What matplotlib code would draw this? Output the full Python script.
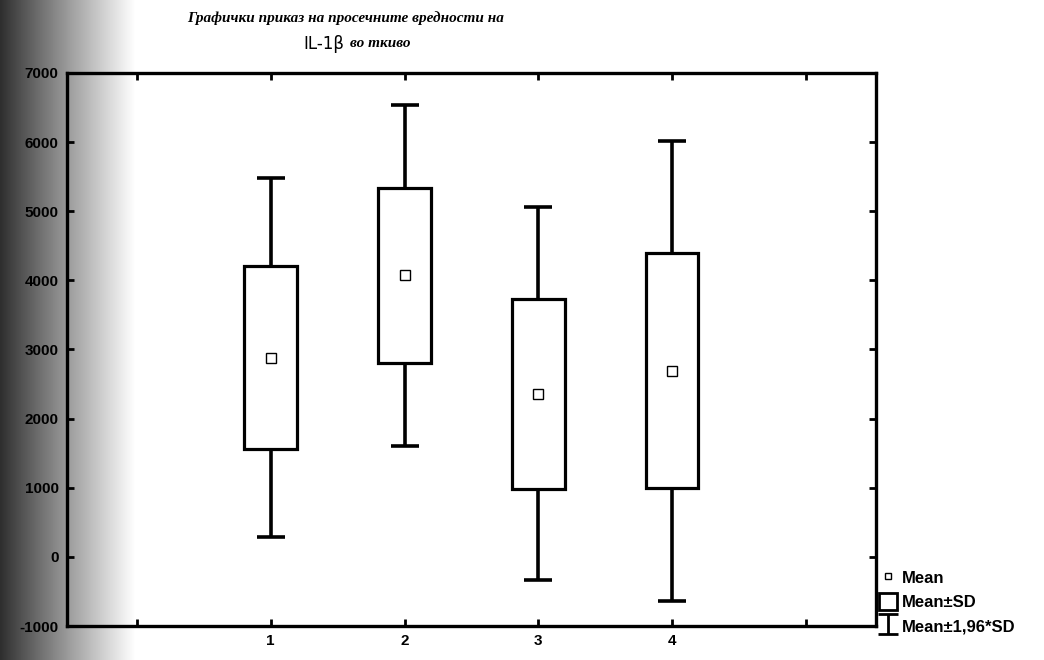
import numpy as np
import matplotlib.pyplot as plt
from matplotlib.patches import Patch
from matplotlib.lines import Line2D
from matplotlib.path import Path

# Средни вредности и стандардни девијации по група
groups = [1, 2, 3, 4]
means = [2880, 4070, 2360, 2690]
sds = [1325, 1260, 1375, 1700]

yticks = [-1000, 0, 1000, 2000, 3000, 4000, 5000, 6000, 7000]
xticks = [0, 1, 2, 3, 4, 5]
xticklabels = ['', '1', '2', '3', '4', '']

plt.rcParams['font.family'] = ['Liberation Sans', 'DejaVu Sans']

fig = plt.figure(figsize=(10.44, 6.6), dpi=100)

# сива лента од скенирањето лево
bg = fig.add_axes([0, 0, 0.13, 1], zorder=-5)
grad = np.linspace(0.15, 1.0, 200) ** 0.9
bg.imshow(np.tile(grad, (10, 1)), cmap='gray', vmin=0, vmax=1,
          aspect='auto', extent=[0, 1, 0, 1])
bg.axis('off')

ax = fig.add_axes([0.0642, 0.0515, 0.7748, 0.838])
ax.patch.set_alpha(0)

m = np.array(means)
s = np.array(sds)

ax.errorbar(groups, m, yerr=1.96 * s, fmt='none', ecolor='black',
            elinewidth=2.6, capsize=10, capthick=2.6, zorder=1)
ax.bar(groups, 2 * s, bottom=m - s, width=0.39, facecolor='white',
       edgecolor='black', linewidth=2.3, zorder=2)
ax.plot(groups, m, ls='none', marker='s', ms=6.5, mfc='white', mec='black',
        mew=1, zorder=3)

ax.set_xlim(-0.52, 5.52)
ax.set_ylim(-1000, 7000)
ax.set_yticks(yticks)
ax.set_yticklabels([str(v) for v in yticks])
ax.set_xticks(xticks)
ax.set_xticklabels(xticklabels)
ax.tick_params(direction='in', length=5, width=2, top=True, right=True,
               labelsize=11, pad=6)
for lab in ax.get_xticklabels() + ax.get_yticklabels():
    lab.set_fontweight('bold')
for sp in ax.spines.values():
    sp.set_linewidth(2.4)

# наслов
fig.text(0.331, 0.972, 'Графички приказ на просечните вредности на',
         family='Liberation Serif', style='italic', weight='bold', fontsize=11,
         ha='center', va='center')
fig.text(0.330, 0.934, 'IL-1β', family='DejaVu Sans', fontsize=12,
         ha='right', va='center')
fig.text(0.335, 0.934, 'во ткиво', family='Liberation Serif', style='italic',
         weight='bold', fontsize=11, ha='left', va='center')

# легенда
iv = [(-1, 1), (1, 1), (0, 1), (0, -1), (-1, -1), (1, -1)]
ic = [Path.MOVETO, Path.LINETO, Path.MOVETO, Path.LINETO, Path.MOVETO, Path.LINETO]
i_marker = Path(iv, ic)
handles = [
    Line2D([], [], ls='none', marker='s', ms=4, mfc='white', mec='black', mew=1),
    Patch(facecolor='white', edgecolor='black', linewidth=2),
    Line2D([], [], ls='none', marker=i_marker, ms=15, mew=2, mec='black',
           fillstyle='none'),
]
labels = ['Mean', 'Mean±SD', 'Mean±1,96*SD']
leg = fig.legend(handles, labels, loc='upper left',
                 bbox_to_anchor=(0.836, 0.148), frameon=False,
                 borderaxespad=0, handlelength=1.05, handleheight=1.2,
                 handletextpad=0.3, labelspacing=0.42,
                 prop={'weight': 'bold', 'size': 12})

fig.savefig('out.png', dpi=100)
